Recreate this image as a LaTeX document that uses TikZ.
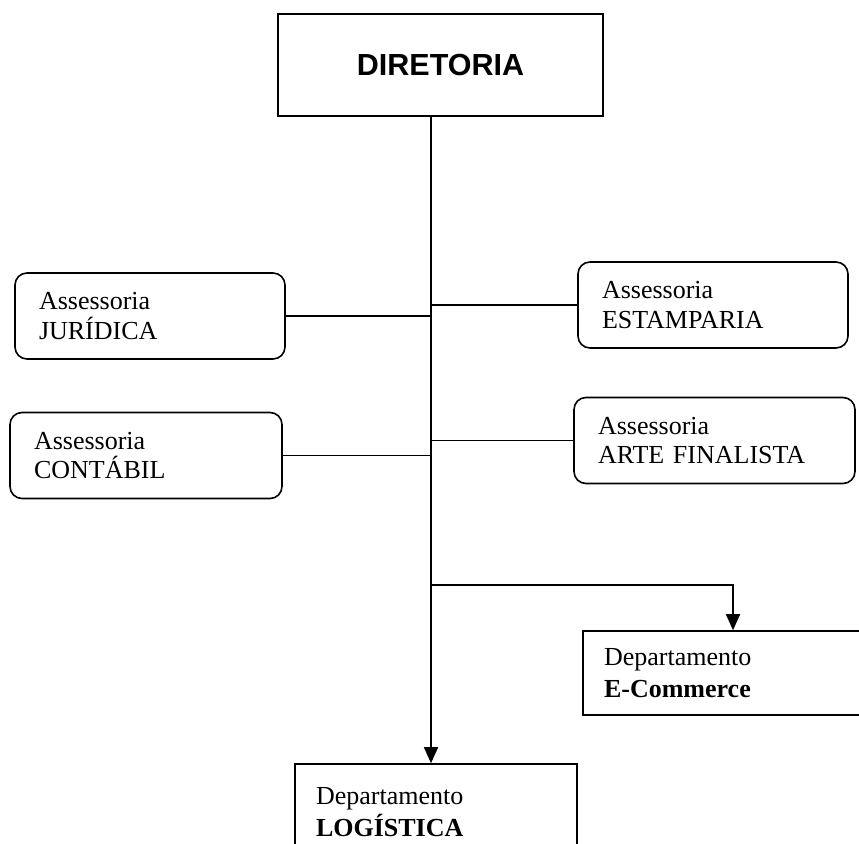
\documentclass[tikz,border=0pt]{standalone}
\usepackage{fontspec}
\setmainfont{Liberation Serif}
\newfontfamily\headfont{Liberation Sans}
\usetikzlibrary{arrows.meta}
\tikzset{
	board node/.style={draw,rectangle,minimum width=325pt,minimum height=102pt,
		font=\headfont\bfseries\fontsize{30.5}{36}\selectfont},
	assess node/.style={draw,rounded corners=12pt,minimum height=86pt,align=left,
		inner xsep=24pt,inner ysep=0pt,font=\fontsize{26}{29.5}\selectfont},
	dept node/.style={draw,rectangle,align=left,inner xsep=21pt,inner ysep=0pt,
		font=\fontsize{26}{31.5}\selectfont}
}

\begin{document}
\begin{tikzpicture}[x=1pt,y=-1pt,line width=1.6pt,>={Triangle[length=16pt,width=14pt]}]
	\useasboundingbox (0,0) rectangle (859,843);
	\clip (0,0) rectangle (859,843);
	% top of the chart
	\node [board node] (dir) at (440.5,65) {DIRETORIA};
	\coordinate (trunk) at (431,0);
	% staff boxes
	\node [assess node,text width=222pt] (jur) at (150,316) {Assessoria\\JUR\'IDICA};
	\node [assess node,text width=224pt] (cont) at (146,455.5) {Assessoria\\CONT\'ABIL};
	\node [assess node,text width=222pt] (est) at (713,305) {Assessoria\\ESTAMPARIA};
	\node [assess node,text width=233pt] (arte) at (714.5,440.5) {Assessoria\\ARTE FINALISTA};
	% departments
	\node [dept node,text width=258pt,minimum height=84pt] (ecom) at (733,673)
		{Departamento\\\textbf{E-Commerce}};
	\node [dept node,text width=240pt,minimum height=96pt] (log) at (436,812)
		{Departamento\\\textbf{LOG\'ISTICA}};
	\coordinate (branch) at (431,585);
	% connectors
	\draw [->] (dir.south -| trunk) -- (log.north -| trunk);
	\draw (jur.east) -- (jur.east -| trunk);
	\draw (cont.east) -- (cont.east -| trunk);
	\draw (est.west) -- (est.west -| trunk);
	\draw (arte.west) -- (arte.west -| trunk);
	\draw [->] (branch) -| (ecom.north);
\end{tikzpicture}
\end{document}
